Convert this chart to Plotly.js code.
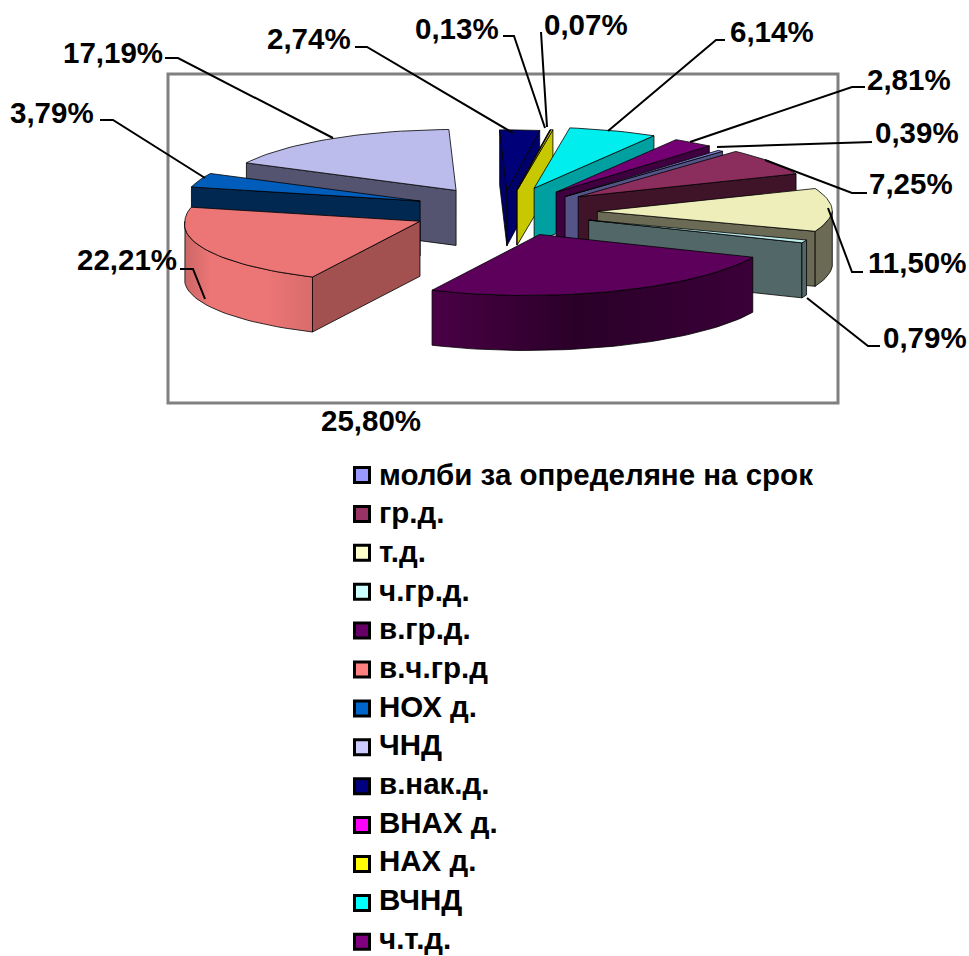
<!DOCTYPE html>
<html>
<head>
<meta charset="utf-8">
<script src="https://cdn.plot.ly/plotly-3.0.1.min.js"></script>
<style>html,body{margin:0;padding:0;background:#fff}#chart{width:969px;height:956px}</style>
</head>
<body>
<div id="chart"></div>
<script>
// ---------- data ----------
var categories = ["молби за определяне на срок","гр.д.","т.д.","ч.гр.д.","в.гр.д.","в.ч.гр.д","НОХ д.","ЧНД","в.нак.д.","ВНАХ д.","НАХ д.","ВЧНД","ч.т.д."];
var shares = [0.39,7.25,11.50,0.79,25.80,22.21,3.79,17.19,2.74,0.07,0.13,6.14,2.81];
var shareLabels = ["0,39%","7,25%","11,50%","0,79%","25,80%","22,21%","3,79%","17,19%","2,74%","0,07%","0,13%","6,14%","2,81%"];

// ---------- styles ----------
var legendColors = ["#9999FF","#993366","#FFFFCC","#CCFFFF","#660066","#FF8080","#0066CC","#CCCCFF","#000080","#FF00FF","#FFFF00","#00FFFF","#800080"];
var topColors = ["#8585DC","#8B2E5D","#EEEEBB","#BEEEEE","#5C005C","#EC7575","#005DBB","#BBBBEC","#000078","#8A008A","#E8E800","#00EEEE","#740074"];
var sideColors = ["#545488","#3F1429","#6B6B55","#526868","#2E002E","#A35050","#002850","#545470","#00006A","#5A005A","#C8C800","#00A0A0","#3E003E"];
var arcGradients = {
  4: [[0,"#4A0046"],[0.45,"#2A0028"],[1,"#3A0038"]],
  5: [[0,"#CC6666"],[0.2,"#EC7575"],[0.65,"#EC7575"],[1,"#D86C6C"]]
};

// ---------- pie projection ----------
var pie = {cx:505, cy:212, rx:235, ry:61, depth:55, explode:0.38, startDeg:40.7, frontShear:13};
var sliceNudge = {2:[3,0], 4:[1,1], 5:[-5,-1], 6:[-1,-3], 7:[-1,-2], 8:[-3,2], 9:[-1,1], 10:[-1,1], 11:[-1,-2], 12:[-1,-1], 1:[0,-2], 0:[1,2]};

function rim(center, deg, drop){
  var a = deg*Math.PI/180, cosA = Math.cos(a);
  return [center[0]+pie.rx*Math.sin(a)-pie.frontShear*Math.max(0,-cosA), center[1]-pie.ry*cosA+drop];
}
function arcPoints(center, d1, d2, drop){
  var n = Math.max(2, Math.ceil(Math.abs(d2-d1)/2)), out=[];
  for(var i=0;i<=n;i++) out.push(rim(center, d1+(d2-d1)*i/n, drop));
  return out;
}
function face(pts, fill, gradient){
  var t = {type:"scatter", mode:"lines", fill:"toself", fillcolor:fill, hoverinfo:"skip", showlegend:false,
    x:pts.map(function(p){return p[0];}).concat(pts[0][0]),
    y:pts.map(function(p){return p[1];}).concat(pts[0][1]),
    line:{color:"#000000", width:0.8}};
  if(gradient) t.fillgradient = {type:"horizontal", colorscale:gradient};
  return t;
}

var total = shares.reduce(function(a,b){return a+b;},0);
var running = pie.startDeg, slices = [];
shares.forEach(function(v,i){
  var d1 = running, d2 = running + v/total*360;
  running = d2;
  var m = (d1+d2)/2*Math.PI/180, n = sliceNudge[i] || [0,0];
  var c = [pie.cx+pie.explode*pie.rx*Math.sin(m)+n[0], pie.cy-pie.explode*pie.ry*Math.cos(m)+n[1]];
  slices.push({i:i,d1:d1,d2:d2,c:c,depthKey:-Math.cos(m)});
});
slices.sort(function(a,b){return a.depthKey-b.depthKey;});

var traces = [];
slices.forEach(function(s){
  var h = pie.depth, side = sideColors[s.i];
  var r1 = rim(s.c,s.d1,0), r2 = rim(s.c,s.d2,0);
  var apexLow = [s.c[0],s.c[1]+h];
  if(Math.sin(s.d1*Math.PI/180) < 0)
    traces.push(face([s.c,r1,[r1[0],r1[1]+h],apexLow], side));
  if(Math.sin(s.d2*Math.PI/180) > 0)
    traces.push(face([s.c,r2,[r2[0],r2[1]+h],apexLow], side));
  var a1 = Math.max(s.d1,90), a2 = Math.min(s.d2,270);
  if(a2 > a1){
    var up = arcPoints(s.c,a1,a2,0), low = arcPoints(s.c,a2,a1,h);
    traces.push(face(up.concat(low), side, arcGradients[s.i]));
  }
  traces.push(face([s.c].concat(arcPoints(s.c,s.d1,s.d2,0)), topColors[s.i]));
});

// ---------- labels and leaders ----------
var labelPlace = {
  "0,39%":[917,132], "7,25%":[911,183], "11,50%":[917,262], "0,79%":[925,337], "25,80%":[371,420],
  "22,21%":[127,259], "3,79%":[52,112], "17,19%":[113,52], "2,74%":[309,38], "0,07%":[586,24],
  "0,13%":[457,28], "6,14%":[772,31], "2,81%":[909,79]
};
var leaders = [
  [[165,58],[178,58],[333,138]],
  [[355,47],[367,47],[513,133]],
  [[503,36],[514,36],[545,128]],
  [[541,32],[547,127]],
  [[725,40],[716,40],[608,131]],
  [[865,87],[852,87],[690,142]],
  [[872,142],[717,147]],
  [[867,193],[852,193],[765,160]],
  [[863,272],[852,272],[828,208]],
  [[880,346],[868,346],[807,298]],
  [[180,269],[193,269],[205,299]],
  [[100,120],[113,120],[205,178]]
];
leaders.forEach(function(l){
  traces.push({type:"scatter", mode:"lines", hoverinfo:"skip", showlegend:false,
    x:l.map(function(p){return p[0];}), y:l.map(function(p){return p[1];}),
    line:{color:"#000000", width:2}});
});

// ---------- key ----------
var fontFamily = '"Liberation Sans", Arial, sans-serif';
var key = {x:362, textX:380, markerY:475, markerStep:38.9, textY:474, textStep:38.67};
categories.forEach(function(name,i){
  traces.push({type:"scatter", mode:"markers", name:name, x:[key.x], y:[key.markerY+key.markerStep*i],
    hoverinfo:"skip", showlegend:false, cliponaxis:false,
    marker:{symbol:"square", size:15, color:legendColors[i], line:{color:"#000000", width:3}}});
});

var annotations = shareLabels.map(function(t){
  return {text:"<b>"+t+"</b>", x:labelPlace[t][0], y:labelPlace[t][1], xref:"x", yref:"y",
    showarrow:false, xanchor:"center", yanchor:"middle", font:{family:fontFamily,size:29.5,color:"#000000"}};
}).concat(categories.map(function(name,i){
  return {text:"<b>"+name+"</b>", x:key.textX, y:key.textY+key.textStep*i, xref:"x", yref:"y",
    showarrow:false, xanchor:"left", yanchor:"middle", xshift:-3, font:{family:fontFamily,size:29.5,color:"#000000"}};
}));

var layout = {
  width:969, height:956, margin:{l:0,r:0,t:0,b:0,autoexpand:false}, paper_bgcolor:"#FFFFFF", plot_bgcolor:"#FFFFFF",
  xaxis:{range:[0,969], visible:false, fixedrange:true},
  yaxis:{range:[956,0], visible:false, fixedrange:true},
  showlegend:false,
  shapes:[{type:"rect", xref:"x", yref:"y", x0:168, y0:74, x1:838, y1:403, layer:"below",
    line:{color:"#808080", width:3}, fillcolor:"rgba(0,0,0,0)"}],
  annotations:annotations
};
Plotly.newPlot("chart", traces, layout, {displayModeBar:false, staticPlot:true});
</script>
</body>
</html>
